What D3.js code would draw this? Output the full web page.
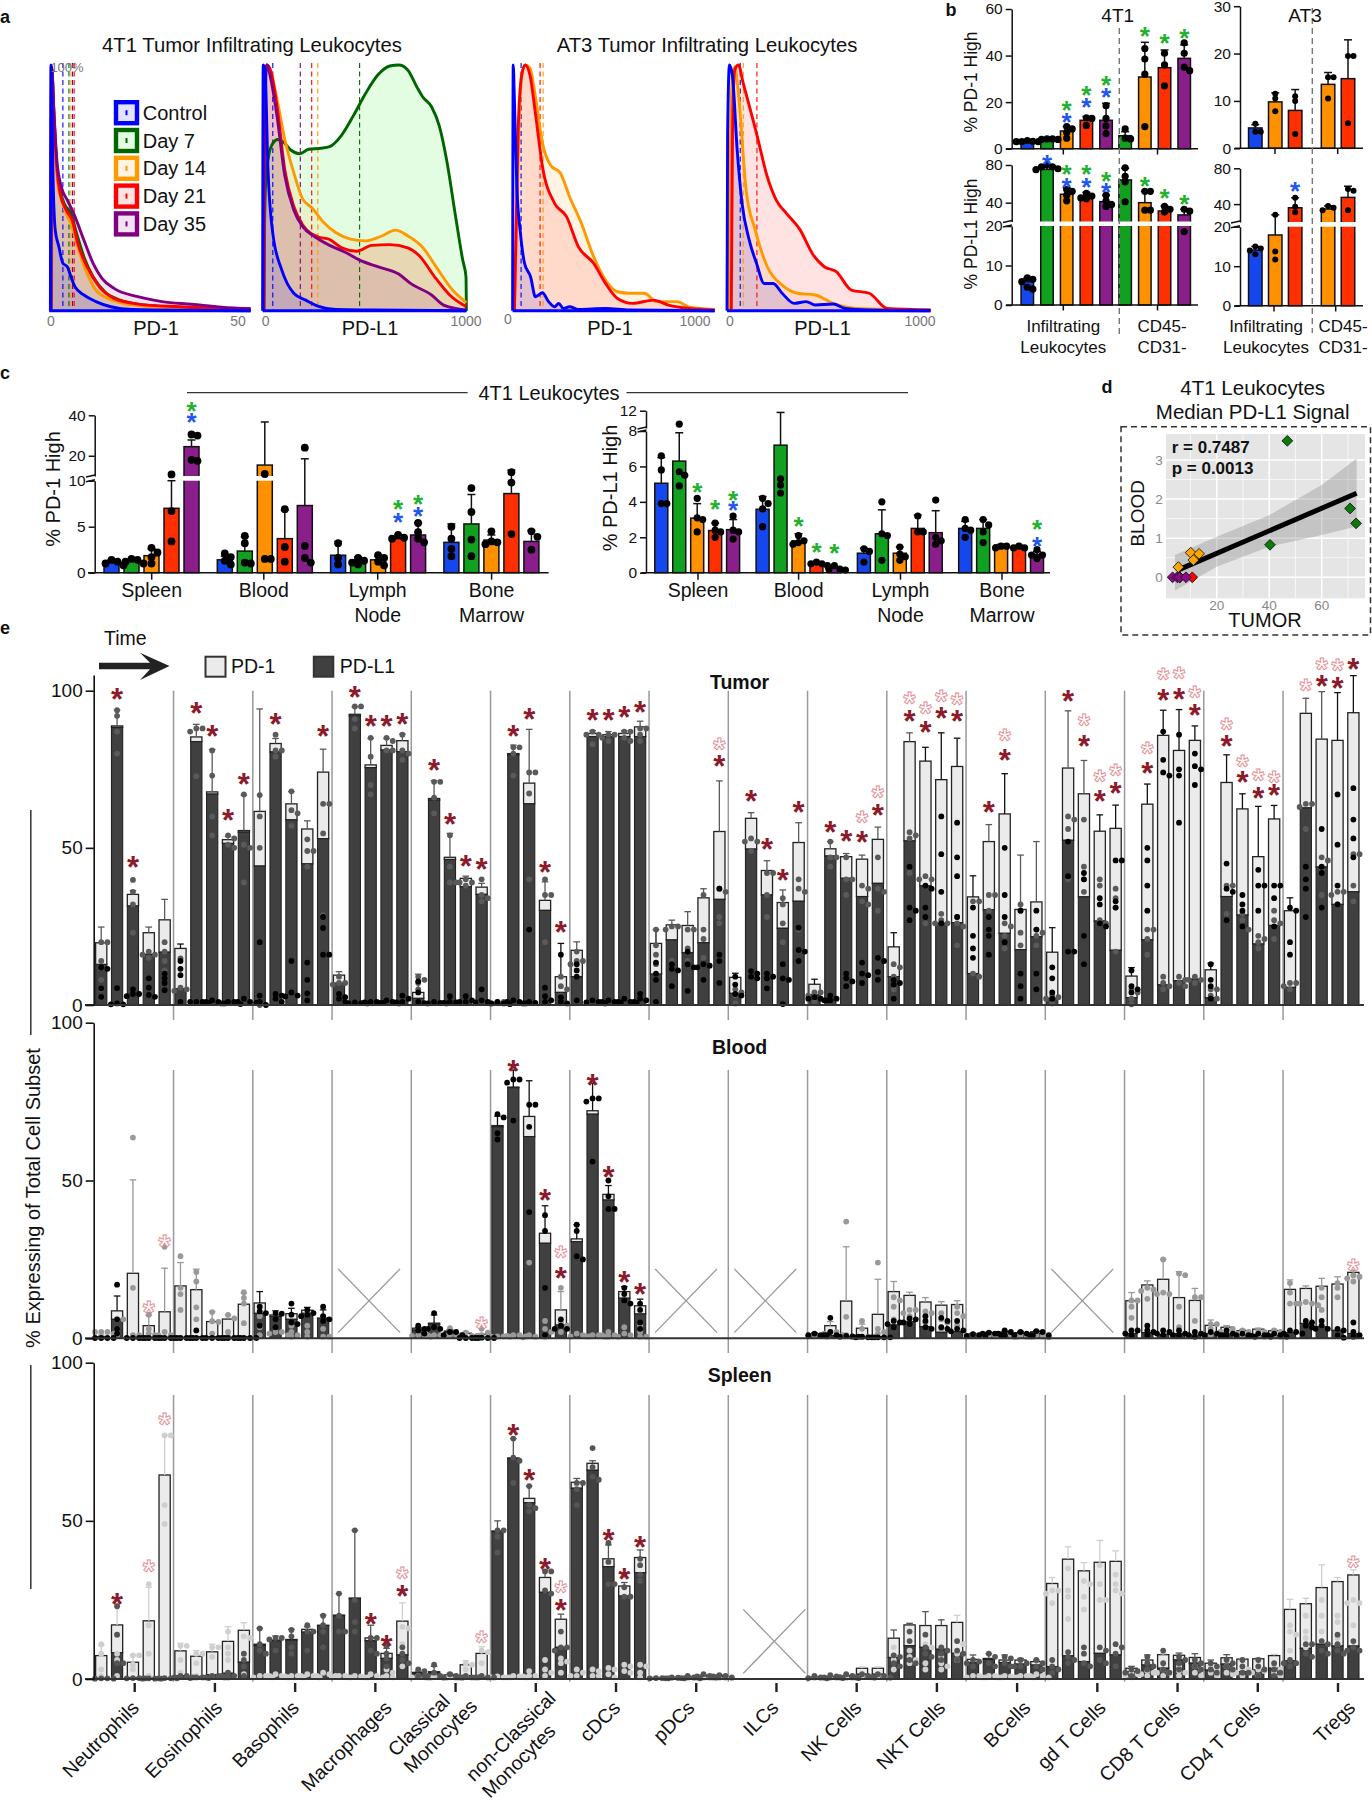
<!DOCTYPE html>
<html>
<head>
<meta charset="utf-8">
<script src="https://cdn.jsdelivr.net/npm/d3@7"></script>
<style>
	html, body { margin: 0; padding: 0; background: #fff; }
	svg { display: block; }
</style>
</head>
<body>
<svg id="fig" width="1372" height="1800"></svg>
<script>
///////// data

// panel a: density curves, [signal, % of max]
const a1Blue = [[.3,0],[.45,100],[.6,92.5],[.9,58.6],[1.5,32.8],[2.4,26.1],[3.4,19.3],[4.5,17.9],[5.4,13.8],[6.4,9.8],[8.6,6.4],[11.6,3.7],[15.3,1.6],[20.5,.5],[50,0]];
const a1Orange = [[.3,0],[.45,99.3],[.9,85.8],[1.5,65.4],[2.2,50.5],[3.1,45],[4.2,39.6],[5.7,34.2],[7.1,26],[9.4,15.2],[11.6,8.4],[14.6,5],[17.6,3.3],[23.5,1.9],[32.4,1.1],[50,.5]];
const a1Green = [[.45,0],[.6,99.3],[1.2,79],[1.9,58.6],[2.7,49.1],[3.9,43],[5.4,39.6],[6.8,31.5],[8.6,22],[10.9,13.8],[13.8,7.7],[17.6,4.3],[23.5,2.3],[32.4,1.4],[50,.5]];
const a1Red = [[.45,0],[.6,99.3],[1.2,79],[1.9,58],[2.7,47.8],[4.2,41],[5.7,36.9],[7.1,27.4],[9.4,17.9],[12.4,9.8],[16.1,5],[22,2.7],[32.4,1.6],[42.9,.9],[50,.9]];
const a1Purple = [[.45,0],[.6,99.3],[1.2,80.3],[1.9,61.3],[3,50.5],[4.5,45],[6.4,38.3],[8.6,28.8],[10.9,19.3],[13.1,13.2],[16.1,9.1],[22,5.7],[28,3.7],[35.4,2.6],[42.9,1.4],[50,.7]];
const a2Blue = [[0,0],[3,100],[12,98],[26,58.6],[50,31.5],[94,16.6],[153,7.1],[212,4.3],[271,1.9],[359,.5],[535,.3],[1000,0]];
const a2Green = [[6,.3],[9,31.5],[15,51.8],[29,62.7],[50,68.1],[74,69.7],[100,68.8],[138,65.4],[182,63.9],[226,65.7],[285,66.1],[329,66.8],[388,71.5],[447,79.6],[506,88.5],[565,95.9],[624,99.6],[668,100],[712,98],[756,91.2],[785,87.1],[829,83],[868,74.9],[903,61.3],[947,38.3],[982,20.6],[998,13.8],[1000,0]];
const a2Orange = [[6,.3],[9,85.8],[18,100],[35,98.6],[65,88.5],[109,69.7],[153,56.2],[197,45.4],[241,42],[300,35.9],[359,31.8],[432,29.1],[506,28.4],[579,30.2],[653,32.8],[712,30.5],[785,25.8],[859,16.9],[932,8.4],[1000,3.3]];
const a2Red = [[6,0],[9,92.5],[21,100],[41,97.3],[71,83],[109,57.3],[153,42.4],[197,34.9],[271,30.1],[329,29],[388,25.6],[462,24.2],[535,26.6],[624,26.9],[712,25.6],[771,22.2],[844,13.8],[918,6.4],[1000,1.6]];
const a2Purple = [[6,0],[9,72.2],[21,100],[41,94],[71,79],[109,54.9],[153,41],[197,34.2],[256,30.1],[329,26.6],[403,23.9],[476,20.6],[565,17.9],[668,14.9],[726,11.1],[829,6.4],[888,2.3],[1000,.3]];
const a3Blue = [[0,0],[3,100],[9,85.8],[21,50.5],[39,31.5],[59,19.3],[89,13.8],[113,5.7],[148,7.3],[178,3.7],[208,1.6],[228,3],[252,.9],[282,1.6],[326,.5],[460,.9],[579,.3],[1000,0]];
const a3Orange = [[9,0],[30,72.2],[45,95.3],[62,100],[86,98.6],[113,87.1],[148,68.1],[187,59.3],[237,55.9],[282,46.4],[341,35.5],[401,22],[460,12.5],[519,7.7],[579,7.1],[653,7.1],[712,3.7],[816,3.7],[875,1.4],[1000,.5]];
const a3Red = [[9,0],[27,72.2],[45,95.9],[62,100],[86,95.9],[113,80.3],[148,58.6],[208,43.7],[267,38.3],[326,26],[401,19.3],[460,11.1],[519,5],[593,3],[697,4.3],[772,2.3],[875,.9],[1000,.3]];
const a4Blue = [[0,0],[3,72.2],[12,100],[27,95.3],[50,65.4],[74,43.7],[109,28.8],[145,19.3],[183,11.1],[227,11.1],[271,7.1],[330,3],[389,3.7],[434,2.3],[522,2.7],[581,.9],[699,.3],[1000,0]];
const a4Orange = [[9,0],[15,58.6],[27,95.3],[38,99.3],[56,88.5],[94,49.1],[139,32.8],[198,17.9],[271,10.4],[345,7.1],[434,6.4],[522,3],[640,.9],[1000,.3]];
const a4Red = [[21,0],[27,72.2],[38,98],[56,100],[80,92.5],[145,72.2],[198,54.5],[242,45],[292,39.6],[360,32.8],[419,23.3],[478,17.9],[537,15.9],[611,8.4],[699,7.1],[788,.9],[1000,.3]];
const a1Medians = [3.4,4.9,5.4,5.8,6.2];
const a2Medians = [50,476,271,241,185];
const a3Medians = [42,151,136];
const a4Medians = [65,80,147];
const timeNames = ['Control','Day 7','Day 14','Day 21','Day 35'];

// panel b
const b4t1Slots = [0,1,2,3,4,4.97,5.97,6.97,7.97];
const b4t1Cols = ['blue','green','orange','red','purple','green','orange','red','purple'];
const b4t1PD1 = [3.3,4.2,7.6,12.2,12.2,5.6,30.8,34.8,38.8];
const b4t1PD1Err = [3.5,4.5,9.5,13.8,19.5,7.3,45.7,42.4,44.6];
const b4t1PD1Dots = [[3,3,3,3.2,3.5],[4,4,4.2,4.2],[9.5,8.5,7,4.5],[13.3,13,10],[18.5,13,9.8,6.5],[8.5,4.2,4.5],[43,38.5,32,9.5],[41,36,27],[45.5,41,33.5,35]];
const b4t1L1 = [5.9,75.4,48.9,45.7,41.1,64.1,40,31.2,27];
const b4t1L1Err = [6.8,80,56,51,48,76.5,52,36.5,33];
const b4t1L1Dots = [[6.9,6.5,5.9,4.5,4],[80,78,78,76,75],[54,52,48,42],[50,47,45,44],[48,42,38,36],[77,68,62,41],[52,52,32,32],[36,33,30],[33,31,18.6]];
const at3Slots = [0,1,2,3.65,4.65];
const at3Cols = ['blue','orange','red','orange','red'];
const at3PD1 = [4.3,9.8,8,13.5,14.7];
const at3PD1Err = [5,11.7,12.4,16,22.9];
const at3PD1Dots = [[5.2,3.5,3.5],[11.5,10.5,7.8],[11,10,3],[15,15,10.5],[19.5,19.5,5.3]];
const at3L1 = [14.1,17.9,35.9,34.5,47.5];
const at3L1Err = [15,28,47,38,60];
const at3L1Dots = [[15,14.5,14,13],[28,13.7,11.7],[47,37,31],[38,36,33],[57,55,33]];
// [slot, value, colour]
const b4t1PD1Stars = [[2,19.2,'green'],[2,13.8,'blue'],[3,25.5,'green'],[3,20.2,'blue'],[4,29.8,'green'],[4,24.8,'blue'],[5.97,50.6,'green'],[6.97,47.9,'green'],[7.97,50,'green']];
const b4t1L1Stars = [[1,87,'blue'],[2,76.5,'green'],[2,62.3,'blue'],[3,76.5,'green'],[3,62.3,'blue'],[4,69.4,'green'],[4,57,'blue'],[5.97,63.4,'green'],[6.97,51,'green'],[7.97,44,'green']];
const at3L1Stars = [[2,60.5,'blue']];

// panel c
const cGroups = ['Spleen','Blood','Lymph|Node','Bone|Marrow'];
const cCols = ['blue','green','orange','red','purple'];
const cPD1 = [1.1,1.3,1.85,7,24.5, 1.4,2.35,15.4,3.7,7.3, 1.9,1.4,1.4,3.7,4.1, 3.3,5.3,3.55,8.6,3.4];
const cPD1Err = [1.4,1.5,2.6,10,27.8, 1.8,3.9,36.7,6.8,18.5, 3.4,1.7,1.8,3.9,5.4, 5.3,8.5,4.1,12.9,4.6];
const cPD1Dots = [[1.4,1.2,1,.8],[1.5,1.4,1.2,1],[2.7,2.2,1.7,1],[10.8,6.7,3.4],[30.5,30,18,17.5],[2.1,1.7,1.3,.9],[4,3.2,1.1,1],[11,1.5,1.5],[6.9,2.8,1.2],[24,2.9,1.6,1.1],[3.2,1.6,.9],[1.6,1.3,1.1,.9],[1.9,1.6,1.2,.8],[4.1,3.8,3.7],[5.4,4.4,3.7,3.3],[5,3.7,2.6,1.8],[9.2,6.6,3.6,1.8],[4.5,3.4,3.3,3.1],[11.9,9.8,4.2],[4.5,3.9,2.5]];
const cPD1Stars = [[4,45,'green'],[4,39.5,'blue'],[13,7.5,'green'],[13,6.1,'blue'],[14,8.1,'green'],[14,6.8,'blue']];
const cL1 = [5.05,6.3,3.08,2.38,2.43, 3.58,7.2,1.8,.5,.3, 1.1,2.2,1.1,2.5,2.26, 2.5,2.5,1.56,1.5,1.04];
const cL1Err = [6.5,7.9,3.9,2.8,3, 4.3,11.6,2.2,.6,.35, 1.38,3.55,1.45,3.25,3.5, 2.9,3,1.6,1.55,1.2];
const cL1Dots = [[6.6,5.8,3.9,3.9],[8.9,5.7,5.5,4.9],[4.2,3.1,3,2.3],[2.8,2.4,2.3,2],[3.2,2.4,2.3,1.9],[4.2,3.9,3.6,2.6],[5.3,4.95,4.5],[2.1,1.8,1.7,1.6],[.6,.5,.5,.4],[.4,.2,.2,.15],[1.35,1.2,.6],[4,2.2,2.1,.7],[1.45,1.05,.9,.7],[3.2,2.3,2.3],[4.1,2,1.8,1.6],[3,2.5,2.4,2],[3,2.7,2.3,1.7],[1.5,1.4,1.5],[1.5,1.4,1.4],[1.3,1,1,.8]];
const cL1Stars = [[2,4.87,'green'],[3,3.9,'green'],[4,4.4,'green'],[4,3.83,'blue'],[7,2.94,'green'],[8,1.47,'green'],[9,1.4,'green'],[19,2.8,'green'],[19,1.8,'blue']];

// panel d
const dGreenPts = [[46.9,3.49],[40.3,.83],[70.8,1.76],[73.1,1.38]];
const dOrangePts = [[10.1,.63],[13.3,.6],[11.1,.44],[5.4,.26]];
const dRedPts = [[10.7,0],[6,0]];
const dPurplePts = [[3.2,0],[5,0],[5.8,0],[8.3,0]];
const dFit = [[5.4,.19],[73.3,2.15]];
const dBandUpper = [[4.1,.57],[20,1.04],[40,1.59],[60,2.36],[73.3,3.04]];
const dBandLower = [[4.1,-.34],[20,.27],[40,.78],[60,1.08],[73.3,1.3]];

// panel e
const cellNames = [['Neutrophils'],['Eosinophils'],['Basophils'],['Macrophages'],['Classical','Monocytes'],['non-Classical','Monocytes'],['cDCs'],['pDCs'],['ILCs'],['NK Cells'],['NKT Cells'],['BCells'],['gd T Cells'],['CD8 T Cells'],['CD4 T Cells'],['Tregs']];
const tumorL1 = [12.9,88.3,31.5,16.1,16.8, 5.1,83.8,67.1,51.4,55, 44.2,80.5,58.9,44.9,52.9, 6.9,92,75.5,81.1,80.6, 2.1,65.2,46.3,37.6,35.2, .5,79.6,64,30.1,4, 9,85.4,85.4,85.4,85.4, 9.8,20.7,16.6,19.8,33.6, 3.7,49.6,35,24.4,33, 3.2,47.4,40.3,34.5,38.7, 9,52.2,37.9,26,26.2, 10,30.3,22.8,17.6,21.7, 2.1,52.4,34.4,26.7,17.4, 2.3,20.7,6.4,7.7,8.2, 2.3,34.5,28.6,19.4,25.3, 5.6,62.7,43.9,32,36];
const tumorTop = [19.8,88.8,35.2,23,27.1, 18,85.3,67.8,52.6,55.5, 61.6,83.2,64,56,74.1, 9.5,92.5,76.4,82.6,84.1, 4,65.7,47,40.3,37.5, .7,80,70.6,33.3,9, 17.4,86.4,86,86.4,88.5, 19.6,25.5,25.3,34.1,55.2, 8.8,59.4,42.8,32.6,51.7, 6.6,49.7,47.2,46.4,52.7, 18.5,83.8,77.6,71.7,75.9, 34.4,52,60.8,30.4,32.8, 16.8,75.4,67.2,55.3,56.2, 9.2,63.9,85.8,81,84.2, 11.2,70.8,62.4,47.2,59.2, 30,92.8,84.6,84.2,93];
const tumorErr = [24.8,93.8,36.4,24.8,33.6, 19.4,89.3,81.3,53.6,66.8, 94.2,84.8,67.9,58.6,81.4, 10.6,94.9,84.8,84.8,86.2, 9.8,71.4,54.6,41,38.7, 1,82.7,87.7,39.2,19.6, 20.1,87.3,87,87.3,90.3, 24,27,29.7,37,71.3, 10.1,61.2,45.9,36.6,58, 8.2,52,48.2,47.7,56.6, 23,86.6,82,86.6,84.9, 41.1,57.4,73.6,47.7,52, 24.6,93.6,77.8,60.5,63.6, 11.9,70.3,93.8,94,88.8, 13.3,79.6,67.2,63.2,63.5, 34.1,97.6,99.7,99.4,104.8];
const tumorPD1Dots = [[12,11.5,2.6,5.3],[.2,.2,.5,5.4],[3.5,3.5,2.8,5],[8.5,5.5,3.2,2.6],[10,8.5,4.7,7],[14,11.5,9.5,1],[1,1,1,.6],[1,.5,1,1.5],[.5,1,1,.3],[1,1,2,.7],[20,0,1,3],[3,3.5,1,2],[14,2.7,4,3],[13.5,3.7,1.5,8],[28,24.5,16,16],[3.5,2,1,2.5],[.6,.6,.8,.5],[.7,1,.8,1],[1,.5,1.5,.7],[3,2,.8,1],[7.5,4,.6,1],[.5,1,.7,.5],[2.8,1,.8,.7],[1,1.5,1,2.8],[1,.8,5,1.5],[.3,.5,1,.5],[1,.5,1.5,1],[24,.7,.5,1],[5.5,1.5,1,2.8],[16,2.5,1,.5],[11,9,1.5,13],[1.5,.5,1,.8],[1.5,1,.8,1],[1,.7,2,1],[3.5,2,1,1.5],[13.5,10,8,1],[13,11,11.5,6],[17,13,12,4.5],[13,12,8,12.5],[37,16,14,7],[9,6.5,3.5,3],[10,10.8,8.5,9],[10,8.5,5.3,9],[13,8.5,8,.3],[17.5,24.6,14,17],[2.5,2,1.5,2],[3,2,1.5,1.5],[10,8.5,7.5,6],[13.5,10,9.5,7],[14,15,10.5,8],[7,6.5,8,2],[31,30,44,27],[38,37,28,31],[60,48,26,36],[58,47,41,28],[31,22,18,15],[28,24,22,16],[50,35,28,20],[30,10,6,2],[30,24,10,5],[12,8.5,4,2],[52,41,17,17],[42,40,22,13],[26,34,32,25],[31,46,46,33],[11,6,5,4],[50,46,38,30],[87,74,73,78],[86,75,58,73],[80,70,76,75],[13,8,6,2],[45,37,36,27],[32,35,25,30],[43,30,38,38],[34,38,25,38],[31,20,30,16],[28,37,44,40],[56,42,44,31],[67,51,38,32],[69,59,53,47]];
const tumorL1Dots = [[20,20,14,8,5],[93.8,92,87,80],[36,32,23,39.8],[17,16,16,15],[20,17,14,11],[5.5,5,14.8,4.5],[88,88,87,72.8],[81,73,60,54],[54,53,51,50],[67,50,51,39],[66.8,60,50,0],[86,81,81,79],[68,62,61,57],[52.7,49,49,44],[64,64,54.6,28.6],[9,7,7,6.5],[95,95,91,88],[85,79,70,67],[85,84,81,81],[86,81,80,78],[9,8,7,5],[71,71,66,61],[54,44,39,39],[40,39,38,39],[40,35,34,33],[.5,.3,1,1],[82,82,80,73],[74,74,67.3,40],[35,35,40,20],[9,6,5,3],[17,14,13,14],[86,86,87,83],[86,86,85,84],[87,87,85,84],[88,88,86,84],[24,19,16,13],[25,25,24,14],[24,24,18,14],[35,24,21,15],[36,37,28,26],[5,3,4,.5],[52,52,53,49],[42,42,35,28],[32,34,26,20],[40,37,36,24],[4,4,3,1],[52,47,47,44],[47,40,40,35],[37,33,38,32],[47,37,36,30],[13,12,9,5],[54,53,55,42],[41,40,40,26],[29,27,26,26],[28,26,25,19],[33,33,10,9],[35,35,30,24],[25,26,22,18],[32,30,23,19],[22,24,23,19],[3,2,2.5,.5],[59,56,60,40],[44,40,59,36],[27,40,38,26],[34,31,37,17],[5,4,2,.2],[24,24,21,16],[9,7,6,5],[9,8,7,6],[9,8,8,7],[5,5,3,2],[38,38,29,27],[29,27,25,24],[22,20,21,18],[30,27,26,21],[7,7,6,5],[64,64,63,56],[47,46,43,35],[36,36,35,32],[48,48,38,33]];
const tumorRedStars = [[1,99.4],[2,45.9],[6,94.9],[7,87.7],[8,61],[9,72.3],[11,91.5],[14,87.7],[16,100],[17,90.7],[18,90.7],[19,91.5],[21,76.8],[22,59.7],[23,46.1],[24,45.4],[26,87.5],[27,93.1],[28,44.4],[29,25.1],[31,92.8],[32,92.6],[33,93.6],[34,95.2],[39,78.2],[41,67],[42,51.7],[43,41.9],[44,63.4],[46,57.2],[47,54.1],[48,53.9],[49,62.4],[51,92.5],[52,88.9],[53,93.2],[54,92.4],[56,63.4],[57,79.9],[61,98.9],[62,84.3],[63,66.8],[64,69.5],[66,76],[67,99],[68,99.4],[69,94.2],[71,84.5],[72,73],[73,67.8],[74,68.7],[77,103.6],[78,103],[79,108.8]];
const tumorPinkStars = [[39,83.6],[48,60.2],[49,68.2],[51,98],[52,95],[53,98.8],[54,97.8],[57,86.5],[62,91.2],[63,73.4],[64,75.3],[66,82.2],[67,105.6],[68,106.2],[69,99.9],[71,89.9],[72,78],[73,73.6],[74,73.1],[76,102.4],[77,108.8],[78,108.7]];

const bloodL1 = [.2,6,.3,.3,.3, .3,.5,.5,.3,.4, 7.9,6.9,6,7.9,6.3, 0,0,0,0,0, 2.6,4.5,2,.3,.3, 67,79.4,63.9,30.1,4.2, 30.6,71,43.8,12.7,7.7, 0,0,0,0,0, 0,0,0,0,0, .8,.8,.5,.5,.5, 4.2,5.3,3.7,1.9,2.1, .8,1.2,1.4,1.5,1.5, 0,0,0,0,0, 1.5,1.8,1.2,1.5,1, 1.5,1.5,1,.8,.8, 1.8,4.7,3.7,2.5,1.5];
const bloodTop = [.5,8.7,20.6,4,8.4, 16.6,15.4,5.3,6.1,10.8, 11.2,7.4,7.8,8.9,6.4, 0,0,0,0,0, 3.2,4.8,2.3,1.6,1.3, 67.4,79.6,70.3,33.3,9, 31.5,72.1,45.6,14.8,10.3, 0,0,0,0,0, 0,0,0,0,0, 1.4,4,11.8,3.2,7.6, 14.8,13.6,11.5,10.5,10.7, 1.4,1.8,1.9,1.8,2.1, 0,0,0,0,0, 11.9,16.9,18.7,12.9,12, 4.1,3.5,2.4,2.9,2.4, 15.5,15.8,16.5,17.2,20.9];
const bloodErr = [1,13.4,50.2,7.4,22.2, 24,21.9,8.4,7.4,14.3, 14.8,8.7,9.5,9.8,9, 0,0,0,0,0, 3.5,7.4,2.8,2,1.5, 70.4,85,81.6,42,14.8, 36,80.8,48.4,16.4,12.4, 0,0,0,0,0, 0,0,0,0,0, 1.7,5.3,29,4.5,18.7, 18,14.6,12.9,11.6,11.9, 1.6,2,2.2,2.2,2.4, 0,0,0,0,0, 14.5,18.2,25,21.1,15.8, 5.8,4,2.8,3.2,2.8, 18.5,16.6,19,19.5,21.6];
const bloodPD1Dots = [[2,2,2,1.5],[3,6,6,1],[63.6,16,1,1],[7.5,1,3,1.5],[29,2,1,1],[26,16,14,9],[21,18,9.8,6],[8.3,5.4,5.2,1.5],[7.4,6.3,2,.5],[14.6,12.8,11,4.8],[10,7,3.5,1],[1,1.5,2,2],[4,2,1,.5],[8,4,2,.5],[7,3,.5,.5],[],[],[],[],[],[1,1,.5,.8],[1,1,.8,1],[3.2,1,1,.8],[1.8,.8,.5,.5],[3,1.8,1,.5],[.6,.6,.5,.5],[1,.8,.6,1],[24,1,.5,.3],[5.5,2,.5,3],[16,5,4,2],[.6,1,1.5,.6],[1,.6,.5,1],[2,1,1,.5],[3.5,1.5,1,.5],[4,2,.5,.5],[],[],[],[],[],[],[],[],[],[],[1,.5,.8,.8],[2,2,1.5,1],[37,6.8,1,.5],[5.5,3,.5,.5],[24,3,2,1.5],[13,12,10,6],[9,9,8,7],[8.5,8,7,5],[8,6,5,3],[10,8,7,4],[1.2,1,.8,.8],[.8,.8,1,1],[1.5,1,.8,.5],[1,.5,.5,.5],[1,.6,.5,.3],[],[],[],[],[],[12,12,10,6.5],[16,15.5,15,12.5],[25,14.5,14,14],[20.5,20,10,3.5],[13,13,5.5,1],[4.5,4.5,3,1],[3,3,2,1.5],[2.5,2,1.5,1],[2.5,2,1,.5],[2.5,2,1,.5],[17.5,14.5,11,11],[11.5,11,11,10.5],[16,13,9,4],[17.5,16,13,1],[20,19.5,19,18]];
const bloodL1Dots = [[.1,.1,.1,.1],[17,6,3,1.5],[.1,.1,.1,.1],[.1,.1,.1,.1],[.1,.1,.1,.1],[.1,.1,.1,.1],[2.5,.1,.1,.1],[.1,.1,.1,.1],[.1,.1,.1,.1],[.1,.1,.1,.1],[10,8,8.5,4],[8,7.8,3.5,6],[11,5,4.5,7.5],[9,8,7.5,7],[10,6,5.5,7],[],[],[],[],[],[4,3,2.5,1.5],[8,3,3,3.5],[2,2,1,1],[.1,.1,.1,.1],[.1,.2,.1,.1],[71,70,65,63],[82,82,81,69],[74,74,67,40],[39,34,16,1],[6,4,3,3],[36,34,26,25],[76,76,75,56],[50,45,41,41],[16,14,12,11],[11,9,5,3],[],[],[],[],[],[],[],[],[],[],[1.5,1,1,1],[6.5,2,1,1],[.8,.6,.5,.5],[.5,.3,.3,.3],[.3,.3,.3,.3],[5.5,5,4.5,3.5],[6.3,6,5,4.5],[7,5.5,3.5,3],[6.5,5.5,3.5,3],[5.5,3,2.5,2.2],[1.3,1,.8,.8],[1.8,1.5,1.5,1],[2.5,2,1.5,1],[2,1.5,1,1],[2.3,2,1,1],[],[],[],[],[],[2.5,2.5,1.5,1],[4,2.5,2,1],[2.5,2,1.5,1],[2.5,1.5,1,1],[2,1.5,1,.5],[2,1.5,1,1],[2.5,1.5,1,1],[1.5,1,1,.5],[1.5,1,.8,.5],[1.5,1,1,.5],[2.5,2,1.5,1.5],[5.5,5,4,3.5],[5.5,4,3,3],[3,2.5,1,.2],[5,2,1,.5]];
const bloodRedStars = [[26,86.8],[28,45.9],[29,21.1],[31,82.4],[32,53],[33,20],[34,16]];
const bloodPinkStars = [[3,10.2],[4,31.4],[24,5.3],[29,27.7],[79,23.8]];
const bloodNoData = [3,7,8,12];

const spleenL1 = [.2,8.3,.3,.2,.2, 1,.8,1.3,1.8,5.3, 10.6,12.1,12.3,14.8,16.9, 20,25.4,12.1,6.5,7.6, 1.8,2,1,1,.5, 46.6,69.7,55.7,27.4,10, 60.3,66,35.5,26.2,33.6, .3,.4,.6,1,1, 0,0,0,0,0, .4,.5,.8,1.5,1.5, 6.8,10.5,10,9.4,8.1, 5.2,6.2,5.2,4.7,4.4, 3.9,7.3,5.5,8.1,7.6, 2.3,4.4,3.4,6,5, 2.8,4.7,2.3,2.8,3.4, 5.7,9.7,11,10.4,10.4];
const spleenTop = [7.4,17.1,5.3,18.4,64.5, 8.9,7.2,8.6,11.9,15.4, 11,12.3,12.5,15.7,17, 20.2,25.6,13,8.1,18.3, 2.1,2.3,1.3,4.5,8.1, 46.8,69.9,57.1,32.1,18.9, 62.2,68.2,38,29.4,38.4, .4,.5,.7,1.1,1.1, 0,0,0,0,0, .6,.7,1,3.4,3.4, 12.9,17.1,16.9,16.9,17.9, 6.2,6.5,6,6,5.5, 30.2,37.9,34.2,36.9,37.2, 3.4,6,7.7,7.5,6.8, 5,6.7,6.3,6.4,7.4, 22,23.8,28.9,30.8,32.9];
const spleenErr = [10.7,23.1,7.6,29,77.1, 11.3,9,11,16.5,17.8, 16,13.6,15.7,16.5,20.2, 27,47,17,9.7,24.1, 2.5,4,1.8,5.8,10.2, 50,76,61,34.5,20.5, 63.4,69,42.4,30.5,40.8, .6,.7,.9,1.3,1.3, 0,0,0,0,0, .8,.9,1.2,3.8,3.8, 15.5,17.6,21.3,18.7,20.1, 7.6,8,7.6,6.5,6, 32.1,41.8,36.8,43.8,40.5, 4,7.6,8,8.2,8, 6,7.7,6.6,6.8,7.8, 25.2,25.5,36.1,32.1,34.5];
const spleenPD1Dots = [[11,8,3,1],[14,8,6,1],[7.5,7.5,4.5,3],[30,17,8,1],[77,77,55,49],[10.5,10.5,6,2],[8,8,5,1],[10,10,7,1],[15,10,8,6],[13.5,13,8,1.5],[1,1,.5,.5],[1,1,1.5,.5],[.5,1,1,.8],[1,1,.5,1.5],[2,1,1.5,1],[.5,.5,1,1],[1,.5,.8,.5],[1.5,1,.5,.5],[3,2,1,.5],[16.5,16,11,4],[1,.5,.5,.3],[.8,.8,.3,.3],[.5,.3,.3,.3],[5,4.5,3,1],[9,8.5,5,1],[.8,.5,.5,.5],[1,.5,.5,.8],[2.5,1,1,.8],[6,3,2,1],[6.5,5.5,5,2],[3,2,1,1],[3,2.5,1,1],[3.5,3,1.5,.5],[4.5,4,2.5,2],[4.5,4,2,.5],[.3,.2,.2,.2],[.3,.2,.2,.2],[.3,.3,.2,.2],[.3,.3,.2,.2],[.3,.3,.2,.2],[],[],[],[],[],[.3,.3,.2,.2],[.3,.3,.2,.2],[.3,.3,.2,.2],[1,.8,.5,.3],[1,.8,.5,.3],[10,7.5,6,3],[9,7,6,5],[11,10,5,3],[7,5,4,3],[12,11,8,6],[1,.5,.5,1],[1,1,.5,.5],[.8,1,.5,.5],[1,.5,1,.5],[1,1,1.5,.5],[28,28,27,24],[35,28,26,19],[31,30,26,22],[36,30,25,25],[33,30,28,27],[2,1.5,1,.5],[2.5,2,1.5,1],[3,2,2,1],[4,2.5,2,1],[4,3,2,1],[4,3,2,1],[4,3,2,1.5],[3,3,2,1],[3,2.5,2,1],[4,3,2,1],[17,15,14,9],[20,15,13,10],[25,20,15,12],[20,18,13,11],[25,24,24,17]];
const spleenL1Dots = [[.2,.2,.1,.1],[23,14,5,5],[.3,.3,.2,.2],[.1,.1,.2,.1],[.2,.2,.2,.3],[1,1,.5,.5],[.5,.3,.5,.3],[1,1,.5,.5],[2,1,1,.5],[8,6,4,1],[16,11,9,8],[13,13,12.5,9],[15.5,13.5,10,8],[17,15,15,9],[20,17,15,10],[27,20,15,15],[47,25,18,15],[13,13,9,8],[10.5,8,6.5,4],[10,8,6,5],[3,2.5,1,1],[4.5,2,1,1],[1.5,1,.5,.5],[1,.5,.5,.5],[1,.5,.5,.5],[47,47,45,40],[76,70,69,62],[61,55,54,53],[34,34,28,27],[15,10,10,9],[62,62,60,55],[73,67,64,63],[43,37,30,30],[33,29,26,26],[38,36,33,31],[.3,.3,.2,.2],[.5,.4,.2,.2],[1,.5,.3,.2],[1.5,1,.8,.5],[1.2,1,.8,.5],[],[],[],[],[],[1,.5,.3,.2],[1.2,.8,.5,.3],[1.5,1,.6,.3],[1.5,1,.5,.5],[1.5,1,.6,.5],[7.5,7,5,4],[15,12,6,5],[14,10,8,7],[10,9,8,6],[12,9,8,6],[6,5.5,5,4],[8,7,5,4],[7,6.5,5,4],[6,5,4,4],[6,5,4,3],[6,4,3,2],[8.5,7,6,5],[10,8,5,4],[10,9,6,5],[11,10,8,4],[3,2.5,2,1],[7,5,4,3],[9,5,3,2],[7,6,5,3],[6,5,4,3],[5,4,3,2],[6,5,4,3],[6,4,2,2],[6,4,3,1],[5,3,2,1],[6,5,5,4],[11,11,8,7],[12,11,9,8],[14,11,9,8],[12,10,9,9]];
const spleenRedStars = [[1,25.7],[17,19.5],[18,12.5],[19,28.1],[26,79.2],[27,64.8],[28,36.9],[29,23.8],[32,46],[33,33.6],[34,43.9]];
const spleenPinkStars = [[3,36.2],[4,82.6],[19,34],[24,13.7],[29,29.6],[79,37.3]];
const spleenNoData = [8];

///////// helpers

const font = '"Liberation Sans", Arial, sans-serif';
const svg = d3.select('#fig').attr('font-family', font);
const lineCols = { blue: '#0000ff', green: '#006400', orange: '#ff9900', red: '#ff0000', purple: '#800080' };
const areaCols = { blue: '#0000ff', green: '#00ee00', orange: '#ff9900', red: '#ff0000', purple: '#800080' };
const barCols = { blue: '#1546ee', green: '#12a020', orange: '#ff9000', red: '#ff3000', purple: '#8a1f8c' };
const starCols = { blue: '#2255ee', green: '#22b02e' };

function txt(g, x, y, str, size, opts = {}) {
	let t = g.append('text')
		.attr('x', x)
		.attr('y', y)
		.attr('font-size', size)
		.attr('dominant-baseline', 'central')
		.attr('text-anchor', opts.anchor || 'middle')
		.attr('fill', opts.fill || '#111')
		.text(str);
	if (opts.bold) t.attr('font-weight', 'bold');
	if (opts.rotate) t.attr('transform', `rotate(${opts.rotate},${x},${y})`);
	return t;
}

// glyph sits high in the em box so shift it down to centre on yc
function star(g, x, yc, col, size, hollow) {
	let t = g.append('text')
		.attr('x', x)
		.attr('y', yc + size * 0.56)
		.attr('font-size', size)
		.attr('font-weight', 'bold')
		.attr('text-anchor', 'middle')
		.attr('fill', hollow ? '#fff' : col)
		.text('*');
	if (hollow) t.attr('stroke', col).attr('stroke-width', 0.9);
}

function leftAxis(g, scale, x, ticks, size, tick, sw) {
	g.append('g')
		.attr('transform', `translate(${x},0)`)
		.call(d3.axisLeft(scale).tickValues(ticks).tickSize(tick).tickSizeOuter(0).tickFormat(d => d))
		.call(a => {
			a.attr('font-size', size).attr('font-family', font);
			a.selectAll('line,path').attr('stroke', '#111').attr('stroke-width', sw);
			a.selectAll('text').attr('fill', '#111');
		});
}

// spreads dots sideways when they would sit on top of each other
function swarm(vals, yf, r, gap) {
	let placed = [];
	for (let v of [...vals].sort((a, b) => b - a)) {
		let py = yf(v);
		let offs = [0, gap, -gap, gap * 2, -gap * 2];
		let off = offs.find(o => !placed.some(p => Math.hypot(p.x - o, p.y - py) < r * 1.5));
		placed.push({ x: off === undefined ? 0 : off, y: py });
	}
	return placed;
}

///////// panel a

const aYTop = 65, aYBase = 310.7;
const aY = d3.scaleLinear().domain([0, 100]).range([aYBase, aYTop]);

function density(x, series, medians, medCols) {
	const g = svg.append('g');
	const area = d3.area().x(d => x(d[0])).y0(aYBase).y1(d => aY(d[1])).curve(d3.curveMonotoneX);
	const line = d3.line().x(d => x(d[0])).y(d => aY(d[1])).curve(d3.curveMonotoneX);
	for (let s of series) {
		g.append('path').attr('d', area(s.pts)).attr('fill', areaCols[s.col]).attr('opacity', 0.11);
	}
	g.selectAll('line.med').data(medians).join('line')
		.attr('x1', d => x(d)).attr('x2', d => x(d))
		.attr('y1', 63).attr('y2', aYBase)
		.attr('stroke', (d, i) => lineCols[medCols[i]])
		.attr('stroke-width', 1.1)
		.attr('stroke-dasharray', '5,3.5');
	for (let s of series) {
		g.append('path').attr('d', line(s.pts)).attr('fill', 'none')
			.attr('stroke', lineCols[s.col]).attr('stroke-width', 2.9);
	}
	// blue floor line
	g.append('line').attr('x1', x.range()[0]).attr('x2', x.range()[1])
		.attr('y1', aYBase).attr('y2', aYBase).attr('stroke', '#0000ff').attr('stroke-width', 2.9);
	return g;
}

const a1X = d3.scaleLinear().domain([0, 50]).range([49.2, 250.6]);
const a2X = d3.scaleLinear().domain([0, 1000]).range([262.6, 466.4]);
const a3X = d3.scaleLinear().domain([0, 1000]).range([512.6, 714.6]);
const a4X = d3.scaleLinear().domain([0, 1000]).range([727, 930.5]);
density(a1X, [{ col: 'green', pts: a1Green }, { col: 'orange', pts: a1Orange }, { col: 'red', pts: a1Red }, { col: 'purple', pts: a1Purple }, { col: 'blue', pts: a1Blue }], a1Medians, ['blue', 'green', 'orange', 'purple', 'red']);
density(a2X, [{ col: 'green', pts: a2Green }, { col: 'orange', pts: a2Orange }, { col: 'red', pts: a2Red }, { col: 'purple', pts: a2Purple }, { col: 'blue', pts: a2Blue }], a2Medians, ['blue', 'green', 'orange', 'red', 'purple']);
density(a3X, [{ col: 'orange', pts: a3Orange }, { col: 'red', pts: a3Red }, { col: 'blue', pts: a3Blue }], a3Medians, ['blue', 'orange', 'red']);
density(a4X, [{ col: 'orange', pts: a4Orange }, { col: 'red', pts: a4Red }, { col: 'blue', pts: a4Blue }], a4Medians, ['blue', 'orange', 'red']);

const aText = svg.append('g');
txt(aText, 252, 45, '4T1 Tumor Infiltrating Leukocytes', 20.3);
txt(aText, 707, 45, 'AT3 Tumor Infiltrating Leukocytes', 20.3);
txt(aText, 67, 67, '100%', 13, { fill: '#777' });
const aTicks = [[51, 321, '0'], [238, 321, '50'], [265.6, 321, '0'], [466, 321, '1000'], [508, 319, '0'], [695, 321, '1000'], [730, 321, '0'], [920, 321, '1000']];
for (let t of aTicks) txt(aText, t[0], t[1], t[2], 14, { fill: '#777' });
for (let t of [[156, 'PD-1'], [370, 'PD-L1'], [610, 'PD-1'], [822.5, 'PD-L1']]) txt(aText, t[0], 328, t[1], 20);

// legend of a
const aLegend = svg.append('g');
['blue', 'green', 'orange', 'red', 'purple'].forEach((c, i) => {
	let ly = 112.7 + i * 27.8;
	aLegend.append('rect').attr('x', 116).attr('y', ly - 10.5).attr('width', 21).attr('height', 21)
		.attr('fill', '#fff').attr('stroke', lineCols[c]).attr('stroke-width', 4.4);
	aLegend.append('rect').attr('x', 118).attr('y', ly - 8.5).attr('width', 17).attr('height', 17)
		.attr('fill', areaCols[c]).attr('opacity', 0.11);
	aLegend.append('line').attr('x1', 126.5).attr('x2', 126.5).attr('y1', ly - 2.5).attr('y2', ly + 2.5)
		.attr('stroke', lineCols[c]).attr('stroke-width', 2);
	txt(aLegend, 142.7, ly, timeNames[i], 20, { anchor: 'start' });
});

///////// bar panels b and c

function barSet(g, o) {
	const bars = o.vals.map((v, i) => ({ v, i, x: o.x(o.slots ? o.slots[i] : i), col: o.cols[i] }));
	g.selectAll('rect.bar').data(bars).join('rect')
		.attr('x', d => d.x - o.bw / 2)
		.attr('width', o.bw)
		.attr('y', d => o.y(d.v))
		.attr('height', d => o.y(0) - o.y(d.v))
		.attr('fill', d => barCols[d.col])
		.attr('stroke', '#111')
		.attr('stroke-width', 1.5);
	// white break across the bars
	if (o.gap) {
		g.selectAll('rect.gap').data(bars.filter(d => d.v > o.gap[0])).join('rect')
			.attr('x', d => d.x - o.bw / 2 - 2)
			.attr('width', o.bw + 4)
			.attr('y', o.gap[1])
			.attr('height', o.gap[2] - o.gap[1])
			.attr('fill', '#fff');
	}
	bars.forEach(d => {
		let top = o.y(d.v), end = o.y(o.errs[d.i]);
		g.append('line').attr('x1', d.x).attr('x2', d.x).attr('y1', top).attr('y2', end).attr('stroke', '#111').attr('stroke-width', 1.5);
		g.append('line').attr('x1', d.x - 4).attr('x2', d.x + 4).attr('y1', end).attr('y2', end).attr('stroke', '#111').attr('stroke-width', 1.5);
		for (let p of swarm(o.dots[d.i], o.y, o.r, o.spread)) {
			g.append('circle').attr('cx', d.x + p.x).attr('cy', p.y).attr('r', o.r).attr('fill', '#000');
		}
	});
	for (let s of o.stars || []) {
		star(g, o.x(s[0]), o.y(s[1]), starCols[s[2]], o.starSize, false);
	}
}

function splitY(low, up, brk) {
	return v => (v <= brk ? low(v) : up(v));
}

function axisBreak(g, x, y1, y2) {
	for (let yy of [y1, y2]) {
		g.append('line').attr('x1', x - 6).attr('x2', x + 3).attr('y1', yy + 1).attr('y2', yy - 1).attr('stroke', '#111').attr('stroke-width', 1.4);
	}
}

function groundLine(g, x1, x2, y) {
	g.append('line').attr('x1', x1).attr('x2', x2).attr('y1', y).attr('y2', y).attr('stroke', '#111').attr('stroke-width', 1.6);
}

function smallTick(g, x, y, len) {
	g.append('line').attr('x1', x).attr('x2', x).attr('y1', y).attr('y2', y + len).attr('stroke', '#111').attr('stroke-width', 1.5);
}

const bG = svg.append('g');
const bX = d3.scaleLinear().domain([0, 8]).range([1027.3, 1184.8]);
const atX = d3.scaleLinear().domain([0, 4.65]).range([1255.3, 1348]);

// 4T1 top
const bTopY = d3.scaleLinear().domain([0, 60]).range([148.7, 9]);
leftAxis(bG, bTopY, 1011.7, [0, 20, 40, 60], 15.5, 6, 1.5);
barSet(bG, { x: bX, slots: b4t1Slots, y: bTopY, vals: b4t1PD1, errs: b4t1PD1Err, dots: b4t1PD1Dots, cols: b4t1Cols, bw: 12.5, r: 3.6, spread: 5.5, stars: b4t1PD1Stars, starSize: 26 });
groundLine(bG, 1006, 1198, 148.7);

// 4T1 bottom, broken axis
const bLowY = d3.scaleLinear().domain([0, 20]).range([305, 226]);
const bUpY = d3.scaleLinear().domain([20, 80]).range([221.5, 165]);
leftAxis(bG, bLowY, 1011.7, [0, 10, 20], 15.5, 6, 1.5);
leftAxis(bG, bUpY, 1011.7, [40, 80], 15.5, 6, 1.5);
axisBreak(bG, 1009, 221.5, 226);
barSet(bG, { x: bX, slots: b4t1Slots, y: splitY(bLowY, bUpY, 20), vals: b4t1L1, errs: b4t1L1Err, dots: b4t1L1Dots, cols: b4t1Cols, bw: 12.5, r: 3.6, spread: 5.5, gap: [20, 221.5, 226], stars: b4t1L1Stars, starSize: 26 });
groundLine(bG, 1006, 1198, 305);

// AT3 top and bottom
const atTopY = d3.scaleLinear().domain([0, 30]).range([148.3, 6.2]);
leftAxis(bG, atTopY, 1240, [0, 10, 20, 30], 15.5, 6, 1.5);
barSet(bG, { x: atX, slots: at3Slots, y: atTopY, vals: at3PD1, errs: at3PD1Err, dots: at3PD1Dots, cols: at3Cols, bw: 13.5, r: 3, spread: 5.5 });
groundLine(bG, 1234.7, 1363, 148.3);
const atLowY = d3.scaleLinear().domain([0, 20]).range([305.7, 226.7]);
const atUpY = d3.scaleLinear().domain([20, 80]).range([222, 168.3]);
leftAxis(bG, atLowY, 1240, [0, 10, 20], 15.5, 6, 1.5);
leftAxis(bG, atUpY, 1240, [40, 80], 15.5, 6, 1.5);
axisBreak(bG, 1237, 222, 226.7);
barSet(bG, { x: atX, slots: at3Slots, y: splitY(atLowY, atUpY, 20), vals: at3L1, errs: at3L1Err, dots: at3L1Dots, cols: at3Cols, bw: 13.5, r: 3, spread: 5.5, gap: [20, 222, 226.7], stars: at3L1Stars, starSize: 26 });
groundLine(bG, 1234.7, 1363, 305.7);

// dashed dividers and ticks under the groups
for (let d of [[1119.3, 28, 336.7], [1312.3, 8, 333]]) {
	bG.append('line').attr('x1', d[0]).attr('x2', d[0]).attr('y1', d[1]).attr('y2', d[2])
		.attr('stroke', '#777').attr('stroke-width', 1.4).attr('stroke-dasharray', '6,4');
}
for (let t of [[1063.3, 149], [1157.5, 149], [1275, 148.5], [1337.7, 148.5], [1063.3, 305], [1157.5, 305], [1274, 306], [1335.7, 306]]) smallTick(bG, t[0], t[1], 5.5);
txt(bG, 1117.7, 15, '4T1', 19);
txt(bG, 1305, 15, 'AT3', 19);
txt(bG, 970.7, 82, '% PD-1 High', 17.5, { rotate: -90 });
txt(bG, 970.7, 234, '% PD-L1 High', 17.5, { rotate: -90 });
for (let t of [[1063.3, 'Infiltrating', 'Leukocytes'], [1162, 'CD45-', 'CD31-'], [1266, 'Infiltrating', 'Leukocytes'], [1343, 'CD45-', 'CD31-']]) {
	txt(bG, t[0], 326, t[1], 17);
	txt(bG, t[0], 347, t[2], 17);
}

// panel c
const cG = svg.append('g');
for (let l of [[187, 467.6], [626.5, 908]]) {
	cG.append('line').attr('x1', l[0]).attr('x2', l[1]).attr('y1', 392.7).attr('y2', 392.7).attr('stroke', '#333').attr('stroke-width', 1.3);
}
txt(cG, 549, 392.7, '4T1 Leukocytes', 20);

const cColsAll = cGroups.flatMap(() => cCols);
const cLeftX = i => 111.5 + Math.floor(i / 5) * 113.3 + (i % 5) * 20;
const cLowY = d3.scaleLinear().domain([0, 10]).range([572.7, 480.7]);
const cUpY = d3.scaleLinear().domain([10, 40]).range([476, 415.3]);
leftAxis(cG, cLowY, 94.7, [0, 5, 10], 15.5, 6, 1.5);
leftAxis(cG, cUpY, 94.7, [20, 40], 15.5, 6, 1.5);
axisBreak(cG, 92, 476, 480.7);
barSet(cG, { x: cLeftX, y: splitY(cLowY, cUpY, 10), vals: cPD1, errs: cPD1Err, dots: cPD1Dots, cols: cColsAll, bw: 15, r: 3.9, spread: 6, gap: [10, 476, 480.7], stars: cPD1Stars, starSize: 26 });
groundLine(cG, 88, 548.6, 572.7);
txt(cG, 52.8, 489, '% PD-1 High', 20, { rotate: -90 });

const cRightX = i => 661.3 + Math.floor(i / 5) * 101.3 + (i % 5) * 17.95;
const cLowY2 = d3.scaleLinear().domain([0, 8]).range([572.7, 431]);
const cUpY2 = d3.scaleLinear().domain([8, 12]).range([428, 410.7]);
leftAxis(cG, cLowY2, 646, [0, 2, 4, 6, 8], 15.5, 6, 1.5);
leftAxis(cG, cUpY2, 646, [12], 15.5, 6, 1.5);
axisBreak(cG, 643.5, 428, 431);
barSet(cG, { x: cRightX, y: splitY(cLowY2, cUpY2, 8), vals: cL1, errs: cL1Err, dots: cL1Dots, cols: cColsAll, bw: 13, r: 3.6, spread: 5.5, stars: cL1Stars, starSize: 26 });
groundLine(cG, 641.5, 1050, 572.7);
txt(cG, 610, 488, '% PD-L1 High', 20, { rotate: -90 });

const cTickXs = [[151.7, 263.8, 377.7, 491.6], [698, 798.6, 900.5, 1002]];
for (let xs of cTickXs) {
	xs.forEach((x, i) => {
		smallTick(cG, x, 572.7, 7);
		let lines = cGroups[i].split('|');
		txt(cG, x, 590, lines[0], 19.5);
		if (lines[1]) txt(cG, x, 614.5, lines[1], 19.5);
	});
}

///////// panel d

const dG = svg.append('g');
const dX = d3.scaleLinear().domain([20, 60]).range([1216.7, 1321.7]);
const dY = d3.scaleLinear().domain([0, 3]).range([577.3, 460]);
txt(dG, 1252.7, 387.3, '4T1 Leukocytes', 20.5);
txt(dG, 1252.7, 411.7, 'Median PD-L1 Signal', 20.5);
dG.append('rect').attr('x', 1121).attr('y', 426.7).attr('width', 249.5).attr('height', 208.3)
	.attr('fill', 'none').attr('stroke', '#333').attr('stroke-width', 1.5).attr('stroke-dasharray', '6,4');
dG.append('rect').attr('x', 1166).attr('y', 434).attr('width', 199).attr('height', 164.3).attr('fill', '#e5e5e5');
for (let v of [10, 30, 50, 70]) dG.append('line').attr('x1', dX(v)).attr('x2', dX(v)).attr('y1', 434).attr('y2', 598.3).attr('stroke', '#fff').attr('stroke-width', 0.7);
for (let v of [.5, 1.5, 2.5]) dG.append('line').attr('x1', 1166).attr('x2', 1365).attr('y1', dY(v)).attr('y2', dY(v)).attr('stroke', '#fff').attr('stroke-width', 0.7);
for (let v of [20, 40, 60]) {
	dG.append('line').attr('x1', dX(v)).attr('x2', dX(v)).attr('y1', 434).attr('y2', 598.3).attr('stroke', '#fff').attr('stroke-width', 1.5);
	txt(dG, dX(v), 605, v, 13.5, { fill: '#888' });
}
for (let v of [0, 1, 2, 3]) {
	dG.append('line').attr('x1', 1166).attr('x2', 1365).attr('y1', dY(v)).attr('y2', dY(v)).attr('stroke', '#fff').attr('stroke-width', 1.5);
	txt(dG, 1159, dY(v), v, 13.5, { fill: '#888' });
}
const dBand = [...dBandUpper, ...[...dBandLower].reverse()];
dG.append('path').attr('d', d3.line().x(d => dX(d[0])).y(d => dY(d[1]))(dBand) + 'Z').attr('fill', '#777').attr('opacity', 0.3);
dG.append('path').attr('d', d3.line().x(d => dX(d[0])).y(d => dY(d[1]))(dFit)).attr('stroke', '#000').attr('stroke-width', 5).attr('fill', 'none');
const dSym = d3.symbol().type(d3.symbolSquare).size(58);
for (let s of [[dGreenPts, '#0a7a0a'], [dOrangePts, '#ffa500'], [dRedPts, '#ff0000'], [dPurplePts, '#8a0a8a']]) {
	dG.selectAll(null).data(s[0]).join('path')
		.attr('d', dSym)
		.attr('transform', d => `translate(${dX(d[0])},${dY(d[1])}) rotate(45)`)
		.attr('fill', s[1])
		.attr('stroke', '#111')
		.attr('stroke-width', 0.8);
}
txt(dG, 1171.7, 447, 'r = 0.7487', 17, { anchor: 'start', bold: true });
txt(dG, 1171.7, 468, 'p = 0.0013', 17, { anchor: 'start', bold: true });
txt(dG, 1265, 620, 'TUMOR', 20);
txt(dG, 1137.3, 513.3, 'BLOOD', 19, { rotate: -90 });

///////// panel e

const eX = d3.scaleBand().domain(d3.range(80)).range([93.3, 1361.3]);
const eBw = 11.2;

function cellPanel(o) {
	const g = svg.append('g');
	// separators between cell types
	g.selectAll('line.sep').data(d3.range(1, 16)).join('line')
		.attr('x1', d => eX(d * 5) + 1).attr('x2', d => eX(d * 5) + 1)
		.attr('y1', o.sepTop).attr('y2', o.sepBottom)
		.attr('stroke', '#999').attr('stroke-width', 1.5);
	// crossed out cell types
	for (let n of o.noData || []) {
		let x1 = eX(n * 5) + (o.crossIn || 7), x2 = x1 + 62;
		g.append('line').attr('x1', x1).attr('x2', x2).attr('y1', o.y(22)).attr('y2', o.y(1.8)).attr('stroke', '#999').attr('stroke-width', 1.3);
		g.append('line').attr('x1', x2).attr('x2', x1).attr('y1', o.y(22)).attr('y2', o.y(1.8)).attr('stroke', '#999').attr('stroke-width', 1.3);
	}
	const idx = d3.range(80).filter(i => o.top[i] > 0);
	const cx = i => eX(i) + eX.bandwidth() / 2;
	g.selectAll('rect.pd1').data(idx).join('rect')
		.attr('x', i => cx(i) - eBw / 2)
		.attr('width', eBw)
		.attr('y', i => o.y(o.top[i]))
		.attr('height', i => o.y(o.l1[i]) - o.y(o.top[i]))
		.attr('fill', '#ebebeb')
		.attr('stroke', '#222')
		.attr('stroke-width', 1.3);
	g.selectAll('rect.l1').data(idx).join('rect')
		.attr('x', i => cx(i) - eBw / 2)
		.attr('width', eBw)
		.attr('y', i => o.y(o.l1[i]))
		.attr('height', i => o.y(0) - o.y(o.l1[i]))
		.attr('fill', '#404040')
		.attr('stroke', '#222')
		.attr('stroke-width', 1.1);
	for (let i of idx) {
		let c = o.l1[i] > o.top[i] - o.l1[i] ? o.l1Col : o.pd1Col;
		let end = o.y(o.err[i]);
		g.append('line').attr('x1', cx(i)).attr('x2', cx(i)).attr('y1', o.y(o.top[i])).attr('y2', end).attr('stroke', c).attr('stroke-width', 1.3);
		g.append('line').attr('x1', cx(i) - 3.3).attr('x2', cx(i) + 3.3).attr('y1', end).attr('y2', end).attr('stroke', c).attr('stroke-width', 1.3);
	}
	const dotLayer = (dots, col) => {
		dots.forEach((vals, i) => {
			for (let p of swarm(vals, o.y, 2.9, 6.2)) {
				g.append('circle').attr('cx', cx(i) + p.x).attr('cy', p.y).attr('r', 2.9).attr('fill', col);
			}
		});
	};
	dotLayer(o.backDots, o.backCol);
	dotLayer(o.frontDots, o.frontCol);
	g.append('line').attr('x1', 85).attr('x2', 1364).attr('y1', o.y(0)).attr('y2', o.y(0)).attr('stroke', '#333').attr('stroke-width', 2);
	leftAxis(g, o.y, 93.7, [0, 50, 100], 19, 8, 1.6);
	for (let s of o.red) star(g, cx(s[0]), o.y(s[1]), '#8b1a2b', 31, false);
	for (let s of o.pink) star(g, cx(s[0]), o.y(s[1]), '#e58a90', 31, true);
	txt(g, 739.6, o.titleY, o.title, 19.5, { bold: true });
	return g;
}

cellPanel({
	title: 'Tumor', titleY: 681.7,
	y: d3.scaleLinear().domain([0, 105]).range([1005, 675]),
	sepTop: 690.7, sepBottom: 1020,
	l1: tumorL1, top: tumorTop, err: tumorErr,
	backDots: tumorL1Dots, backCol: '#5a5a5a', frontDots: tumorPD1Dots, frontCol: '#000',
	l1Col: '#5a5a5a', pd1Col: '#111',
	red: tumorRedStars, pink: tumorPinkStars
});
cellPanel({
	title: 'Blood', titleY: 1047,
	y: d3.scaleLinear().domain([0, 100]).range([1338.3, 1022.7]),
	sepTop: 1070, sepBottom: 1353,
	l1: bloodL1, top: bloodTop, err: bloodErr,
	backDots: bloodPD1Dots, backCol: '#999', frontDots: bloodL1Dots, frontCol: '#000',
	l1Col: '#111', pd1Col: '#999',
	noData: bloodNoData,
	red: bloodRedStars, pink: bloodPinkStars
});
const spleenPanel = cellPanel({
	title: 'Spleen', titleY: 1375,
	y: d3.scaleLinear().domain([0, 100]).range([1679, 1362.7]),
	sepTop: 1395, sepBottom: 1681.7,
	l1: spleenL1, top: spleenTop, err: spleenErr,
	backDots: spleenPD1Dots, backCol: '#cfcfcf', frontDots: spleenL1Dots, frontCol: '#555',
	l1Col: '#555', pd1Col: '#cfcfcf',
	noData: spleenNoData, crossIn: 16,
	red: spleenRedStars, pink: spleenPinkStars
});

// x axis under spleen
const eTickX = d3.scalePoint().domain(d3.range(16)).range([134.2, 1337.5]);
const eLabelShift = [6, 9, 5.5, 18, 0, 0, 6, 0, 3.6, 6.5, 10, 15, 10, 4, 4, 19];
spleenPanel.append('g')
	.attr('transform', 'translate(0,1683)')
	.call(d3.axisBottom(eTickX).tickSize(9).tickFormat(''))
	.call(a => {
		a.select('.domain').remove();
		a.selectAll('line').attr('stroke', '#222').attr('stroke-width', 2.4);
	});
cellNames.forEach((lines, i) => {
	let tx = eTickX(i);
	if (lines.length === 1) {
		spleenPanel.append('text').attr('font-size', 19.5).attr('text-anchor', 'end').attr('fill', '#111')
			.attr('transform', `translate(${tx + eLabelShift[i]},1709) rotate(-45)`).text(lines[0]);
	} else {
		// two line labels are roughly centred on each other
		let c = lines[0] === 'Classical' ? [-31.5, 1730, 7.5] : [-19.8, 1741, -11.8];
		let t = spleenPanel.append('text').attr('font-size', 19.5).attr('text-anchor', 'middle').attr('fill', '#111')
			.attr('transform', `translate(${tx + c[0]},${c[1]}) rotate(-45)`);
		t.append('tspan').attr('x', 0).attr('y', 0).text(lines[0]);
		t.append('tspan').attr('x', c[2]).attr('y', 23).text(lines[1]);
	}
});

// side rule and shared y title
const eSide = svg.append('g');
for (let l of [[810, 1035], [1365, 1589]]) {
	eSide.append('line').attr('x1', 30.8).attr('x2', 30.8).attr('y1', l[0]).attr('y2', l[1]).attr('stroke', '#333').attr('stroke-width', 1.5);
}
txt(eSide, 32.5, 1198, '% Expressing of Total Cell Subset', 20, { rotate: -90 });

// time arrow and legend
txt(eSide, 104, 638, 'Time', 19.5, { anchor: 'start' });
eSide.append('path').attr('d', 'M99,662.7 L150,662.7 L140,652.7 L169.5,666 L140,680 L150,669.3 L99,669.3 Z').attr('fill', '#222');
eSide.append('rect').attr('x', 205.5).attr('y', 656.7).attr('width', 20).attr('height', 20).attr('fill', '#ebebeb').attr('stroke', '#333').attr('stroke-width', 2);
txt(eSide, 231, 666, 'PD-1', 19.5, { anchor: 'start' });
eSide.append('rect').attr('x', 313.8).attr('y', 656.7).attr('width', 19.5).attr('height', 20).attr('fill', '#404040').attr('stroke', '#333').attr('stroke-width', 2);
txt(eSide, 339.8, 666, 'PD-L1', 19.5, { anchor: 'start' });

// panel letters
for (let l of [['a', 5, 17], ['b', 951, 9.5], ['c', 5, 373], ['d', 1107, 387], ['e', 5, 628]]) {
	txt(svg, l[1], l[2], l[0], 18, { bold: true });
}
</script>
</body>
</html>
